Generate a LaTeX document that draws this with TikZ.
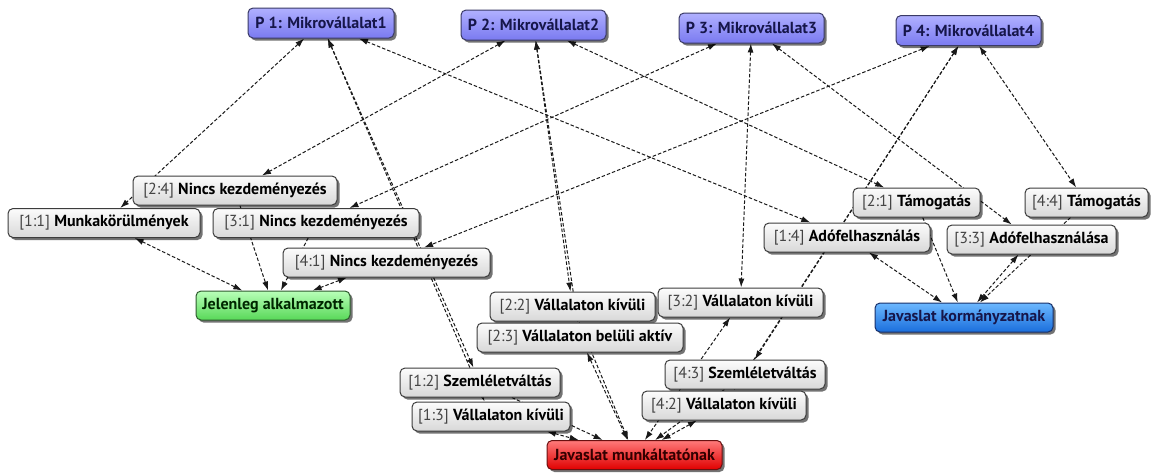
\documentclass[tikz,border=0pt]{standalone}
\usepackage{fontspec}
\setmainfont{PT Sans}
\usetikzlibrary{shadows,backgrounds,arrows.meta}
\definecolor{pTop}{HTML}{B0B0FF}
\definecolor{pBot}{HTML}{7A7AF0}
\definecolor{pBorder}{HTML}{3A3A66}
\definecolor{pText}{HTML}{16164A}
\definecolor{gTop}{HTML}{FCFCFC}
\definecolor{gBot}{HTML}{D8D8D8}
\definecolor{gBorder}{HTML}{3C3C3C}
\definecolor{jTop}{HTML}{B8FFB8}
\definecolor{jBot}{HTML}{58D858}
\definecolor{jBorder}{HTML}{2E5A2E}
\definecolor{rTop}{HTML}{FF7A7A}
\definecolor{rBot}{HTML}{E00000}
\definecolor{rBorder}{HTML}{6A1010}
\definecolor{bTop}{HTML}{6CB8FF}
\definecolor{bBot}{HTML}{1A6EDC}
\definecolor{bBorder}{HTML}{18306A}
\definecolor{lblGray}{HTML}{444444}
\tikzset{
  basebox/.style={line width=1pt, rounded corners=5pt, minimum height=29pt, inner sep=1pt,
    font=\fontsize{16}{18}\selectfont,
    drop shadow={shadow xshift=2.5pt, shadow yshift=-2.5pt, opacity=0.55, fill=black}},
  pbox/.style={basebox, draw=pBorder, top color=pTop, bottom color=pBot, text=pText, font=\fontsize{16}{18}\selectfont\bfseries, minimum height=30pt},
  gbox/.style={basebox, draw=gBorder, top color=gTop, bottom color=gBot, text=black},
  jbox/.style={basebox, draw=jBorder, top color=jTop, bottom color=jBot, text=black!85!green, font=\fontsize{16}{18}\selectfont\bfseries},
  rbox/.style={basebox, draw=rBorder, top color=rTop, bottom color=rBot, text=black!80!red, font=\fontsize{16}{18}\selectfont\bfseries},
  bbox/.style={basebox, draw=bBorder, top color=bTop, bottom color=bBot, text=pText, font=\fontsize{16}{18}\selectfont\bfseries},
  edge/.style={dash pattern=on 3.5pt off 2pt, line width=1pt, draw=black!90, >={Latex[length=9pt,width=6pt]}}
}
\newcommand{\lbl}[2]{{\color{lblGray}#1} \textbf{#2}}
\begin{document}
\begin{tikzpicture}[x=1pt,y=-1pt]
\useasboundingbox (0,0) rectangle (1153,472);
% top nodes
\node[pbox, minimum width=146pt] (p1) at (321,23) {P 1: Mikrovállalat1};
\node[pbox, minimum width=145pt] (p2) at (533.5,25) {P 2: Mikrovállalat2};
\node[pbox, minimum width=145pt] (p3) at (751.5,28) {P 3: Mikrovállalat3};
\node[pbox, minimum width=145pt] (p4) at (968.5,30.5) {P 4: Mikrovállalat4};
% middle nodes
\node[gbox, minimum width=204pt] (n24) at (235,190.5) {\lbl{[2:4]}{Nincs kezdeményezés}};
\node[gbox, minimum width=192pt] (n11) at (104,223) {\lbl{[1:1]}{Munkakörülmények}};
\node[gbox, minimum width=206pt] (n31) at (316,223) {\lbl{[3:1]}{Nincs kezdeményezés}};
\node[gbox, minimum width=207pt] (n41) at (386.5,262.5) {\lbl{[4:1]}{Nincs kezdeményezés}};
\node[jbox, minimum width=154pt] (jel) at (273,305.5) {Jelenleg alkalmazott};
\node[gbox, minimum width=165pt] (n22) at (572.5,306.5) {\lbl{[2:2]}{Vállalaton kívüli}};
\node[gbox, minimum width=165pt] (n32) at (740.5,302.5) {\lbl{[3:2]}{Vállalaton kívüli}};
\node[gbox, minimum width=206pt] (n23) at (580,337.5) {\lbl{[2:3]}{Vállalaton belüli aktív}};
\node[gbox, minimum width=160pt] (n12) at (480,382.5) {\lbl{[1:2]}{Szemléletváltás}};
\node[gbox, minimum width=158pt] (n13) at (491,416.5) {\lbl{[1:3]}{Vállalaton kívüli}};
\node[gbox, minimum width=160pt] (n43) at (745,374.5) {\lbl{[4:3]}{Szemléletváltás}};
\node[gbox, minimum width=164pt] (n42) at (724,405.5) {\lbl{[4:2]}{Vállalaton kívüli}};
\node[rbox, minimum width=175pt] (jm) at (634.5,455) {Javaslat munkáltatónak};
\node[gbox, minimum width=127pt] (n21) at (916.5,202.5) {\lbl{[2:1]}{Támogatás}};
\node[gbox, minimum width=123pt] (n44) at (1086.5,202.5) {\lbl{[4:4]}{Támogatás}};
\node[gbox, minimum width=166pt] (n14) at (847,237.5) {\lbl{[1:4]}{Adófelhasználás}};
\node[gbox, minimum width=169pt] (n33) at (1031.5,239.5) {\lbl{[3:3]}{Adófelhasználása}};
\node[bbox, minimum width=178pt] (jk) at (964,317.5) {Javaslat kormányzatnak};
% connectors
\begin{scope}[on background layer]
\draw[edge,<->] (p1) -- (n11);
\draw[edge,<->] (p1) -- (n12);
\draw[edge,<->] (p1) -- (n13);
\draw[edge,<->] (p1) -- (n14);
\draw[edge,<->] (p2) -- (n24);
\draw[edge,<->] (p2) -- (n22);
\draw[edge,<->] (p2) -- (n23);
\draw[edge,<->] (p2) -- (n21);
\draw[edge,<->] (p3) -- (n31);
\draw[edge,<->] (p3) -- (n32);
\draw[edge,<->] (p3) -- (n33);
\draw[edge,<->] (p4) -- (n41);
\draw[edge,<->] (p4) -- (n42);
\draw[edge,<->] (p4) -- (n43);
\draw[edge,<->] (p4) -- (n44);
\draw[edge,<->] (n11) -- (jel);
\draw[edge,->] (n24) -- (jel);
\draw[edge,->] (n31) -- (jel);
\draw[edge,<->] (n41) -- (jel);
\draw[edge,->] (n12) -- (jm);
\draw[edge,<->] (n13) -- (jm);
\draw[edge,<->] (n22) -- (jm);
\draw[edge,<->] (n23) -- (jm);
\draw[edge,<->] (n32) -- (jm);
\draw[edge,<->] (n42) -- (jm);
\draw[edge,->] (n43) -- (jm);
\draw[edge,<->] (n14) -- (jk);
\draw[edge,->] (n21) -- (jk);
\draw[edge,<->] (n33) -- (jk);
\draw[edge,->] (n44) -- (jk);
\end{scope}
\end{tikzpicture}
\end{document}
